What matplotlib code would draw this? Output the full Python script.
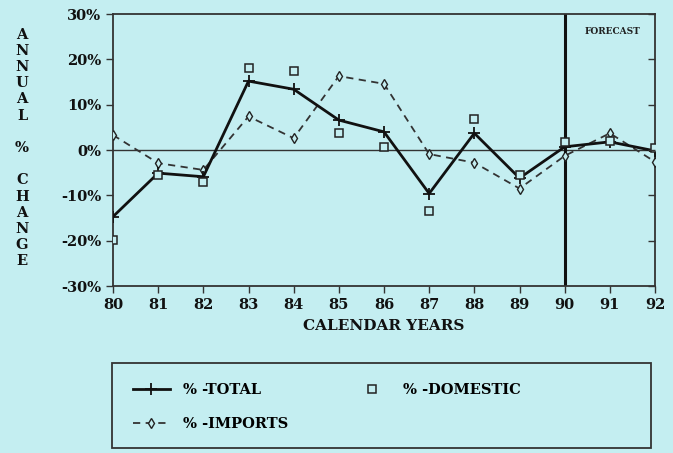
import matplotlib
matplotlib.use("Agg")
import matplotlib.pyplot as plt
from matplotlib.patches import Rectangle

years = [80, 81, 82, 83, 84, 85, 86, 87, 88, 89, 90, 91, 92]
year_labels = [str(y) for y in years]
total = [-14.7, -5.1, -5.9, 15.2, 13.4, 6.6, 4.0, -9.6, 3.7, -6.2, 0.7, 1.8, -0.2]
domestic = [-19.9, -5.5, -7.0, 18.0, 17.4, 3.7, 0.7, -13.4, 6.8, -5.5, 1.8, 2.0, 0.4]
imports = [3.3, -2.9, -4.4, 7.4, 2.6, 16.3, 14.6, -0.9, -2.8, -8.5, -1.3, 3.7, -2.6]
yticks = [-30, -20, -10, 0, 10, 20, 30]
ytick_labels = ["-30%", "-20%", "-10%", "0%", "10%", "20%", "30%"]
forecast_year = 90

bg = "#c4eef1"
fam = "DejaVu Serif"

fig = plt.figure(figsize=(6.73, 4.53), dpi=100, facecolor=bg)
ax = fig.add_axes([113/673, 1-286/453, (655-113)/673, (286-14)/453], facecolor=bg)

ax.plot(years, total, color="#111111", lw=2.0, marker="+", ms=9, mew=1.3, label="% -TOTAL", zorder=4)
ax.plot(years, imports, color="#333333", lw=1.3, ls=(0, (4, 3)), marker="d", ms=5,
        mfc=bg, mec="#222222", mew=1.0, label="% -IMPORTS", zorder=3)
ax.plot(years, domestic, ls="none", marker="s", ms=5.5, mfc=bg, mec="#222222", mew=1.1,
        label="% -DOMESTIC", zorder=5)

ax.axhline(0, color="#333333", lw=1.0, zorder=1)
ax.axvline(forecast_year, color="#111111", lw=2.2, zorder=2)
ax.text(0.974, 0.935, "FORECAST", transform=ax.transAxes, ha="right", va="center",
        fontsize=6.5, fontweight="bold", family=fam, color="#222222")

ax.set_xlim(80, 92)
ax.set_ylim(-30, 30)
ax.set_xticks(years)
ax.set_xticklabels(year_labels)
ax.set_yticks(yticks)
ax.set_yticklabels(ytick_labels)
for s in ax.spines.values():
    s.set_color("#333333")
    s.set_linewidth(1.3)
ax.tick_params(axis="both", colors="#333333", labelcolor="#111111", labelsize=10.5, length=5, width=1.0)
# right-side ticks point inward
axr = ax.twinx()
axr.set_ylim(-30, 30)
axr.set_yticks(yticks)
axr.tick_params(axis="y", direction="in", length=5, width=1.0, colors="#333333", labelright=False)
for s in axr.spines.values():
    s.set_visible(False)
for lab in ax.get_xticklabels() + ax.get_yticklabels():
    lab.set_fontweight("bold")
    lab.set_family(fam)

ax.set_xlabel("CALENDAR YEARS", fontsize=11, fontweight="bold", family=fam, labelpad=5, color="#111111")

ylabel = "\n".join(list("ANNUAL")) + "\n\n%\n\n" + "\n".join(list("CHANGE"))
fig.text(22/673, 1-148/453, ylabel, ha="center", va="center", fontsize=10.5, fontweight="bold",
         family=fam, linespacing=1.2, color="#111111")

# legend frame
fig.patches.append(Rectangle((112/673, 1-448/453), (651-112)/673, (448-363)/453,
                             transform=fig.transFigure, fill=False, edgecolor="#333333", lw=1.3))
handles, labels = ax.get_legend_handles_labels()
leg = fig.legend(handles, labels, ncol=2, loc="center left",
                 bbox_to_anchor=(120/673, 1-407/453),
                 frameon=False, prop={"family": fam, "weight": "bold", "size": 10.5},
                 handlelength=2.5, handletextpad=0.9, columnspacing=4.5, labelspacing=1.4)

fig.savefig("out.png", dpi=100, facecolor=bg)
